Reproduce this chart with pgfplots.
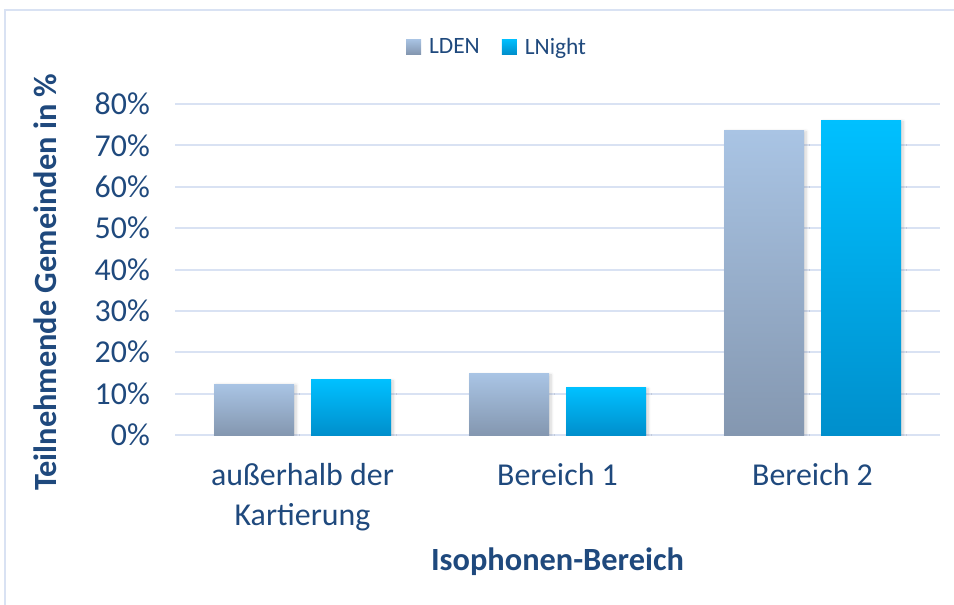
\documentclass[border=0pt]{standalone}
\usepackage{fontspec}
\setmainfont{Carlito}
\usepackage{pgfplots}
\usepackage{pgfplotstable}
\pgfplotsset{compat=1.18}
\usetikzlibrary{shadows.blur}
\definecolor{txt}{RGB}{31,73,125}
\definecolor{gridc}{RGB}{217,226,243}
\definecolor{ldentop}{RGB}{169,196,228}
\definecolor{ldenbot}{RGB}{132,151,176}
\definecolor{lntop}{RGB}{0,192,255}
\definecolor{lnbot}{RGB}{0,143,204}
\pgfplotstableread{
x lden lnight
0 12.3 13.3
1 14.8 11.4
2 73.6 76.0
}\data
\tikzset{barshadow/.style={blur shadow={shadow xshift=2bp, shadow yshift=-1bp,
  shadow blur radius=3bp, shadow blur steps=6, shadow opacity=18}}}
\begin{document}
\begin{tikzpicture}
\path[use as bounding box] (0bp,0bp) rectangle (954bp,-605bp);
\draw[gridc, line width=1.5bp] (5bp,-605bp) -- (5bp,-10bp) -- (954bp,-10bp);
\begin{axis}[
  at={(175bp,-435bp)}, anchor=south west,
  scale only axis, width=765bp, height=331bp,
  ymin=0, ymax=80, xmin=-0.5, xmax=2.5,
  bar width=80bp,
  axis line style={draw=none},
  major tick length=0pt,
  ymajorgrids, grid style={gridc, line width=2bp},
  ytick={0,10,20,30,40,50,60,70,80},
  yticklabels={0\%,10\%,20\%,30\%,40\%,50\%,60\%,70\%,80\%},
  xtick={0,1,2},
  xticklabels={außerhalb der\\Kartierung, Bereich 1, Bereich 2},
  xticklabel style={align=center, inner sep=0pt, yshift=-28bp, text=txt,
    font=\fontsize{32}{40}\selectfont},
  yticklabel style={inner sep=0pt, xshift=-25bp, text=txt,
    font=\fontsize{32}{36}\selectfont},
  xlabel={Isophonen-Bereich},
  x label style={at={(axis description cs:0.5,-0.384)}, anchor=center,
    text=txt, font=\bfseries\fontsize{32.5}{36}\selectfont},
  ylabel={Teilnehmende Gemeinden in \%},
  y label style={at={(axis description cs:-0.17,0.462)}, anchor=center,
    text=txt, font=\bfseries\fontsize{32.5}{36}\selectfont},
  legend style={at={(axis description cs:0.421,1.172)}, anchor=center,
    draw=none, fill=none, legend columns=2, text=txt,
    font=\fontsize{23.5}{26}\selectfont,
    /tikz/every even column/.append style={column sep=20bp}},
]
\addlegendimage{legend image code/.code={%
  \path[draw=none, top color=ldentop, bottom color=ldenbot] (0bp,-7bp) rectangle (15bp,8bp);
  \path[draw=none] (21bp,0bp);}}
\addlegendimage{legend image code/.code={%
  \path[draw=none, top color=lntop, bottom color=lnbot] (0bp,-7bp) rectangle (15bp,8bp);
  \path[draw=none] (21bp,0bp);}}
\pgfplotsinvokeforeach{0,1,2}{
  \addplot[ybar, bar shift=-48.5bp, draw=none, top color=ldentop, bottom color=ldenbot,
    barshadow, forget plot, x filter/.expression={abs(x-#1)<0.1 ? x : nan}]
    table[x=x, y=lden]{\data};
  \addplot[ybar, bar shift=48.5bp, draw=none, top color=lntop, bottom color=lnbot,
    barshadow, forget plot, x filter/.expression={abs(x-#1)<0.1 ? x : nan}]
    table[x=x, y=lnight]{\data};
}
\legend{LDEN, LNight}
\end{axis}
\end{tikzpicture}
\end{document}
